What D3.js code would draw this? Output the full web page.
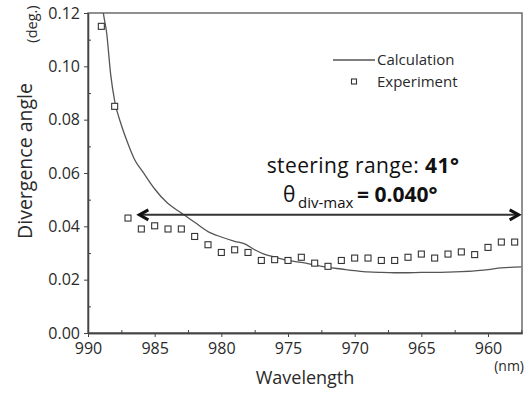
<!DOCTYPE html>
<html><head><meta charset="utf-8">
<script src="https://cdn.jsdelivr.net/npm/d3@7"></script>
<style>
body{margin:0;background:#fff;}
text{font-family:"Open Sans",sans-serif;}
</style></head>
<body><svg id="c" width="530" height="394"></svg>
<script>
// Experimental data (wavelength nm, divergence angle deg)
const expWavelength = [989,988,987,986,985,984,983,982,981,980,979,978,977,976,975,974,973,972,971,970,969,968,967,966,965,964,963,962,961,960,959,958];
const expAngle = [0.115,0.085,0.0431,0.039,0.0402,0.039,0.039,0.0362,0.0331,0.0302,0.0312,0.0302,0.0272,0.0275,0.0272,0.0284,0.0262,0.025,0.0272,0.0281,0.0281,0.0272,0.0272,0.0284,0.0296,0.0281,0.0296,0.0304,0.0294,0.0321,0.0341,0.0341];
// Calculation curve
const calcWavelength = [989.2,988.85,988.6,988.3,988.0,987.5,987,986.5,985.9,985,984.1,983,982,981,980,979,978.2,977.5,976.8,976,975,974,973,972,971,970,969,968,967,966,965,964,963,962,961,960,959,958,957.5];
const calcAngle = [0.135,0.12,0.1125,0.097,0.087,0.078,0.071,0.065,0.0605,0.054,0.049,0.045,0.0415,0.038,0.036,0.0344,0.0333,0.0312,0.0296,0.0285,0.0272,0.0265,0.0255,0.0246,0.024,0.0234,0.0229,0.0227,0.0226,0.0226,0.0227,0.0227,0.0228,0.023,0.0233,0.0238,0.0244,0.0247,0.0248];
const xTicks = [990,985,980,975,970,965,960];
const yTicks = [0,0.02,0.04,0.06,0.08,0.10,0.12];
const arrowRange = [986.15, 957.7];
const arrowLevel = 0.0443;

const svg = d3.select("#c");
const L=88, R=522, T=13, B=333;
const x = d3.scaleLinear().domain([990,957.45]).range([L,R]);
const y = d3.scaleLinear().domain([0,0.12]).range([B,T]);
const ink = "#2a2a2a";

svg.append("defs").append("clipPath").attr("id","clip")
  .append("rect").attr("x",L).attr("y",T).attr("width",R-L).attr("height",B-T);

// frame
svg.append("rect").attr("x",L).attr("y",T).attr("width",R-L).attr("height",B-T)
  .attr("fill","none").attr("stroke","#555").attr("stroke-width",1.3);

// axes
const xAxis = svg.append("g").attr("transform",`translate(0,${B})`)
  .call(d3.axisBottom(x).tickValues(xTicks).tickFormat(d3.format("d")).tickSizeInner(4).tickSizeOuter(0).tickPadding(6));
const xMinor = svg.append("g").attr("transform",`translate(0,${B})`)
  .call(d3.axisBottom(x).tickValues(d3.range(987.5,957,-5)).tickFormat("").tickSizeInner(-3).tickSizeOuter(0));
const yAxis = svg.append("g").attr("transform",`translate(${L},0)`)
  .call(d3.axisLeft(y).tickValues(yTicks).tickFormat(d3.format(".2f")).tickSizeInner(4).tickSizeOuter(0).tickPadding(4));
const yMinor = svg.append("g").attr("transform",`translate(${L},0)`)
  .call(d3.axisLeft(y).tickValues([0.01,0.03,0.05,0.07,0.09,0.11]).tickFormat("").tickSizeInner(-3).tickSizeOuter(0));
[xAxis,xMinor,yAxis,yMinor].forEach(g=>{
  g.select(".domain").attr("stroke","#444").attr("stroke-width",1.3);
  g.selectAll(".tick line").attr("stroke","#444");
  g.selectAll(".tick text").attr("font-size",16).attr("font-family","Open Sans, sans-serif").attr("fill",ink);
});

// calculation line
svg.append("path").datum(calcWavelength.map((w,i)=>[w,calcAngle[i]]))
  .attr("clip-path","url(#clip)")
  .attr("fill","none").attr("stroke","#555").attr("stroke-width",1.3)
  .attr("d", d3.line().x(d=>x(d[0])).y(d=>y(d[1])).curve(d3.curveMonotoneX));

// experiment markers
const s=6;
svg.append("g").selectAll("rect").data(expWavelength.map((w,i)=>[w,expAngle[i]])).join("rect")
  .attr("x",d=>x(d[0])-s/2).attr("y",d=>y(d[1])-s/2).attr("width",s).attr("height",s)
  .attr("fill","#fff").attr("stroke","#333").attr("stroke-width",1.1);

// double arrow
const ay = y(arrowLevel), ax1 = x(arrowRange[0]), ax2 = x(arrowRange[1]);
svg.append("line").attr("x1",ax1+1).attr("x2",ax2-1).attr("y1",ay).attr("y2",ay)
  .attr("stroke","#333").attr("stroke-width",2);
svg.append("path").attr("d",`M${ax1+9},${ay-5}L${ax1},${ay}L${ax1+9},${ay+5}`)
  .attr("fill","none").attr("stroke","#111").attr("stroke-width",3).attr("stroke-linejoin","miter");
svg.append("path").attr("d",`M${ax2-9},${ay-5}L${ax2},${ay}L${ax2-9},${ay+5}`)
  .attr("fill","none").attr("stroke","#111").attr("stroke-width",3).attr("stroke-linejoin","miter");

// annotation text
const t1 = svg.append("text").attr("x",363).attr("y",173).attr("text-anchor","middle")
  .attr("font-size",21).attr("letter-spacing",0.4).attr("fill","#111");
t1.append("tspan").text("steering range: ");
t1.append("tspan").attr("font-weight","bold").text("41°");
const t2 = svg.append("text").attr("y",202).attr("font-size",21).attr("fill","#111");
t2.append("tspan").attr("x",283).text("θ");
t2.append("tspan").attr("x",298).attr("font-size",15).attr("dy",6).text("div-max");
t2.append("tspan").attr("x",357).attr("dy",-6).attr("font-weight","bold").text("= 0.040°");

// legend
svg.append("line").attr("x1",333).attr("x2",375).attr("y1",60).attr("y2",60).attr("stroke","#555").attr("stroke-width",1.3);
svg.append("text").attr("x",377).attr("y",65).attr("font-size",15).attr("fill",ink).text("Calculation");
svg.append("rect").attr("x",354-s/2+0.5).attr("y",82-s/2).attr("width",s-1).attr("height",s-1)
  .attr("fill","#fff").attr("stroke","#333").attr("stroke-width",1.1);
svg.append("text").attr("x",377).attr("y",87).attr("font-size",15).attr("fill",ink).text("Experiment");

// axis titles
svg.append("text").attr("transform","translate(32,161) rotate(-90)").attr("text-anchor","middle").attr("font-size",19.5).attr("fill",ink).text("Divergence angle");
svg.append("text").attr("transform","translate(37,24) rotate(-90)").attr("text-anchor","middle").attr("font-size",14.5).attr("fill",ink).text("(deg.)");
svg.append("text").attr("x",305).attr("y",384).attr("text-anchor","middle").attr("font-size",18).attr("fill",ink).text("Wavelength");
svg.append("text").attr("x",524).attr("y",371).attr("text-anchor","end").attr("font-size",14).attr("fill",ink).text("(nm)");
</script></body></html>
